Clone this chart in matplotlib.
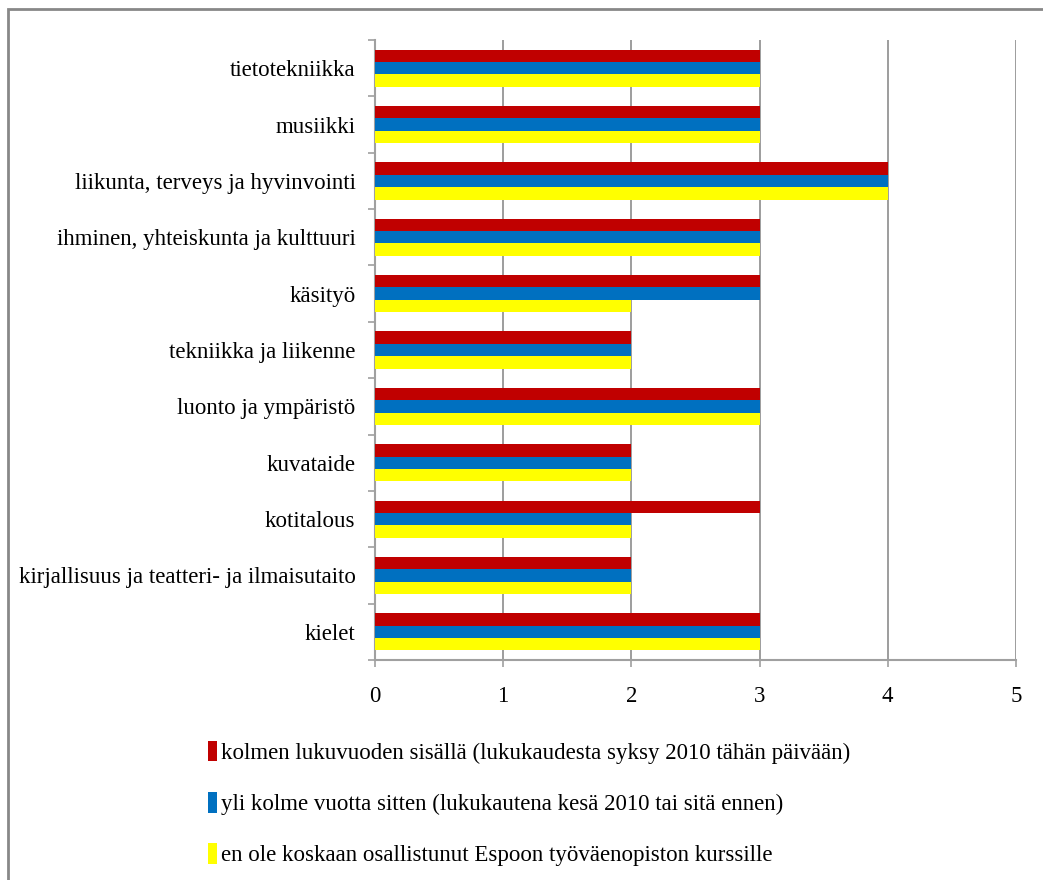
import matplotlib.pyplot as plt
import matplotlib.patches as mpatches
import numpy as np

# Aineisto: kurssialueet alhaalta ylös
alueet = ['kielet', 'kirjallisuus ja teatteri- ja ilmaisutaito', 'kotitalous',
          'kuvataide', 'luonto ja ympäristö', 'tekniikka ja liikenne', 'käsityö',
          'ihminen, yhteiskunta ja kulttuuri', 'liikunta, terveys ja hyvinvointi',
          'musiikki', 'tietotekniikka']
kolme_vuotta = [3, 2, 3, 2, 3, 2, 3, 3, 4, 3, 3]
yli_kolme = [3, 2, 2, 2, 3, 2, 3, 3, 4, 3, 3]
ei_koskaan = [3, 2, 2, 2, 3, 2, 2, 3, 4, 3, 3]
sarjat = ['kolmen lukuvuoden sisällä (lukukaudesta syksy 2010 tähän päivään)',
          'yli kolme vuotta sitten (lukukautena kesä 2010 tai sitä ennen)',
          'en ole koskaan osallistunut Espoon työväenopiston kurssille']
varit = ['#C00000', '#0070C0', '#FFFF00']

plt.rcParams['font.family'] = ['Liberation Serif', 'DejaVu Serif']

fig = plt.figure(figsize=(10.43, 8.8), dpi=100)
ax = fig.add_axes([0.3595, 0.25, 0.6145, 0.7045])

y = np.arange(len(alueet))
h = 0.22
ax.barh(y + h, kolme_vuotta, height=h, color=varit[0], zorder=3)
ax.barh(y, yli_kolme, height=h, color=varit[1], zorder=3)
ax.barh(y - h, ei_koskaan, height=h, color=varit[2], zorder=3)

ax.set_xlim(0, 5)
ax.set_ylim(-0.5, len(alueet) - 0.5)
ax.set_xticks(range(6))
ax.set_yticks(y)
ax.set_yticklabels(alueet)
ax.set_yticks(np.arange(-0.5, len(alueet), 1), minor=True)
ax.tick_params(axis='y', which='major', length=0, pad=14, labelsize=16.5)
ax.tick_params(axis='y', which='minor', length=5, color='#A0A0A0', width=1.2)
ax.tick_params(axis='x', length=5, color='#A0A0A0', width=1.2, pad=14, labelsize=16.5)
ax.grid(axis='x', color='#8C8C8C', linewidth=1.2, zorder=0)

for s in ['top', 'right']:
    ax.spines[s].set_visible(False)
for s in ['left', 'bottom']:
    ax.spines[s].set_color('#A0A0A0')
    ax.spines[s].set_linewidth(1.5)

kahvat = [mpatches.Patch(facecolor=c, edgecolor='none') for c in varit]
fig.legend(kahvat, sarjat, loc='upper left', bbox_to_anchor=(0.188, 0.171),
           frameon=False, fontsize=16.5, handlelength=0.4, handleheight=1.0,
           handletextpad=0.2, labelspacing=1.22, borderpad=0)

# kehys kaavion ympärillä
kehys = mpatches.Rectangle((8 / 1043, -0.1), 1.2, 0.1 + 871 / 880,
                           transform=fig.transFigure, fill=False,
                           edgecolor='#888888', linewidth=2)
fig.patches.append(kehys)

fig.savefig('out.png', dpi=100)
